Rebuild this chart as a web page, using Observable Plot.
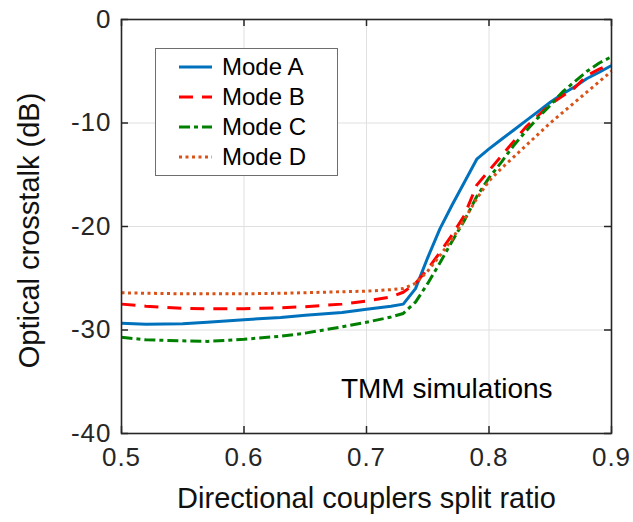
<!DOCTYPE html>
<html><head><meta charset="utf-8">
<script src="https://cdn.jsdelivr.net/npm/d3@7"></script>
<script src="https://cdn.jsdelivr.net/npm/@observablehq/plot@0.6"></script>
<style>
body{margin:0;background:#fff;}
#wrap{position:relative;width:633px;height:522px;font-family:"Liberation Sans",Arial,Helvetica,sans-serif;}
#legend{position:absolute;left:155px;top:48px;width:181px;height:126px;background:#fff;border:1px solid #6e6e6e;}
</style>
</head><body><div id="wrap"><div id="legend"></div></div>
<script>
const xValues = [0.5,0.52,0.55,0.57,0.6,0.63,0.65,0.68,0.7,0.72,0.73,0.74,0.75,0.76,0.77,0.78,0.79,0.8,0.81,0.82,0.83,0.84,0.85,0.86,0.87,0.88,0.89,0.9];
const modeA = [-29.35,-29.45,-29.4,-29.25,-29.0,-28.8,-28.57,-28.3,-28.0,-27.7,-27.5,-26.0,-23.0,-20.2,-17.9,-15.7,-13.5,-12.5,-11.6,-10.7,-9.8,-8.9,-8.0,-7.2,-6.5,-5.7,-5.1,-4.45];
const modeB = [-27.5,-27.7,-27.9,-27.95,-27.95,-27.85,-27.75,-27.5,-27.2,-26.8,-26.35,-25.5,-24.1,-22.5,-20.8,-18.9,-16.0,-14.6,-13.2,-11.8,-10.4,-9.3,-8.2,-7.4,-6.6,-5.4,-4.8,-4.3];
const modeC = [-30.7,-30.95,-31.05,-31.1,-30.9,-30.6,-30.3,-29.7,-29.25,-28.75,-28.4,-27.3,-25.5,-23.5,-21.4,-19.4,-17.1,-15.3,-13.8,-12.2,-10.8,-9.5,-8.3,-7.0,-6.0,-5.0,-4.2,-3.6];
const modeD = [-26.4,-26.45,-26.5,-26.5,-26.5,-26.45,-26.4,-26.3,-26.25,-26.1,-26.0,-25.5,-24.3,-22.8,-21.2,-19.3,-17.3,-15.6,-14.4,-13.3,-12.2,-11.1,-10.0,-9.0,-8.0,-7.0,-6.0,-5.0];
const seriesNames = ["Mode A","Mode B","Mode C","Mode D"];
const seriesValues = [modeA, modeB, modeC, modeD];
const seriesColors = ["#0072BD","#FF0000","#008000","#D95319"];
const seriesDash = [null,"14,9","11,4,4,4","3,3.5"];
const xTicks = [0.5,0.6,0.7,0.8,0.9];
const yTicks = [0,-10,-20,-30,-40];
const xLabel = "Directional couplers split ratio";
const yLabel = "Optical crosstalk (dB)";
const annotation = "TMM simulations";

const FONT = '"Liberation Sans", Arial, Helvetica, sans-serif';
const ink = "#262626";

const lineMarks = seriesValues.map((vals, i) => {
  const rows = xValues.map((x, j) => ({x, y: vals[j]}));
  const opts = {x: "x", y: "y", stroke: seriesColors[i], strokeWidth: 3, strokeLinecap: "butt", strokeLinejoin: "round"};
  if (seriesDash[i]) opts.strokeDasharray = seriesDash[i];
  return Plot.line(rows, opts);
});

const chart = Plot.plot({
  width: 633,
  height: 522,
  marginLeft: 121,
  marginRight: 22,
  marginTop: 19,
  marginBottom: 89,
  style: {fontFamily: FONT, background: "#fff", color: ink, overflow: "visible"},
  x: {domain: [0.5, 0.9]},
  y: {domain: [-40, 0]},
  marks: [
    Plot.gridX(xTicks, {stroke: "#e0e0e0", strokeOpacity: 1, strokeWidth: 1}),
    Plot.gridY(yTicks, {stroke: "#e0e0e0", strokeOpacity: 1, strokeWidth: 1}),
    ...lineMarks,
    Plot.text([annotation], {x: () => 0.7655, y: () => -35.7, text: d => d, fontSize: 28, fill: "#000", textAnchor: "middle"}),
    Plot.tickX(xTicks, {x: d => d, insetTop: 407, stroke: ink, strokeWidth: 1.5}),
    Plot.tickX(xTicks, {x: d => d, insetBottom: 407, stroke: ink, strokeWidth: 1.5}),
    Plot.tickY(yTicks, {y: d => d, insetRight: 483, stroke: ink, strokeWidth: 1.5}),
    Plot.tickY(yTicks, {y: d => d, insetLeft: 483, stroke: ink, strokeWidth: 1.5}),
    Plot.frame({stroke: ink, strokeWidth: 1.6}),
    Plot.axisX(xTicks, {anchor: "bottom", tickSize: 0, tickPadding: 14, fontSize: 26, fill: ink, label: null, tickFormat: d => d.toFixed(1)}),
    Plot.axisY(yTicks, {anchor: "left", tickSize: 0, tickPadding: 10, fontSize: 26, fill: ink, label: null, tickFormat: d => String(d)}),
    Plot.text([xLabel], {frameAnchor: "bottom", dy: 74, text: d => d, fontSize: 29, fill: "#111"}),
    Plot.text([yLabel], {frameAnchor: "left", textAnchor: "middle", rotate: -90, dx: -92, dy: 4, text: d => d, fontSize: 29, fill: "#111"})
  ]
});
document.getElementById("wrap").insertBefore(chart, document.getElementById("legend"));
d3.select(chart).selectAll('g[aria-label$="tick label"] text').style("letter-spacing", "1px");

// legend overlay
const lg = d3.select("#legend").append("svg").attr("width", 181).attr("height", 126)
  .style("font-family", FONT).style("display", "block");
seriesNames.forEach((name, i) => {
  const cy = 18 + i * 30;
  const ln = lg.append("line").attr("x1", 23).attr("x2", 56).attr("y1", cy).attr("y2", cy)
    .attr("stroke", seriesColors[i]).attr("stroke-width", 3);
  if (seriesDash[i]) ln.attr("stroke-dasharray", seriesDash[i]);
  lg.append("text").attr("x", 66).attr("y", cy).attr("dy", "0.35em")
    .attr("font-size", 24).attr("fill", "#000").text(name);
});
</script>
</body></html>
